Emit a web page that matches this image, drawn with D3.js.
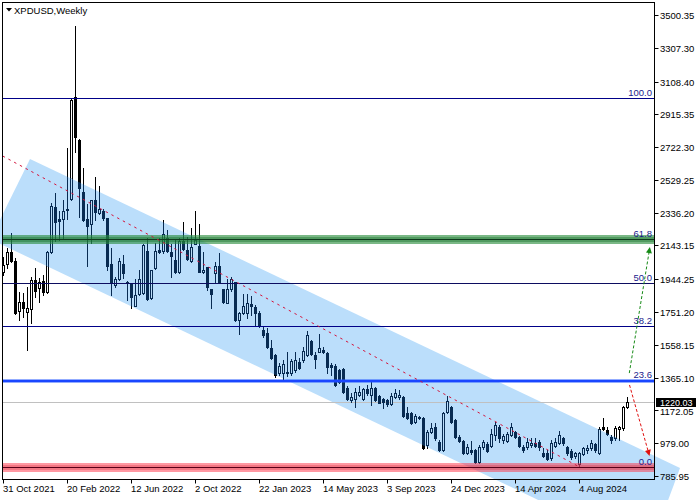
<!DOCTYPE html>
<html><head><meta charset="utf-8">
<script src="https://cdn.jsdelivr.net/npm/d3@7"></script>
<style>
body{margin:0;background:#fff}
svg{display:block}
text{font-family:'Liberation Sans',Arial,sans-serif;font-size:9.5px}
</style>
</head><body>
<svg id="chart" width="700" height="500"></svg>
<script>
// ---------- DATA ----------
const symbolTitle = "XPDUSD,Weekly";
const openP = [1989,2032,2103,2054,1757,1808,1753,1767,1940,1891,1934,1871,2103,2368,2299,2299,2354,2415,3015,2764,
2460,2299,2269,2411,2332,2346,2303,2034,1910,1946,2034,1930,1916,1789,1857,1861,2113,1832,2008,2116,
2113,2185,2103,2058,1985,2170,2116,2054,2152,2140,1985,2014,1887,1979,2022,1887,1806,1887,1926,1704,
1743,1743,1798,1781,1745,1645,1628,1539,1498,1392,1392,1398,1392,1410,1457,1469,1498,1581,1498,1516,
1528,1510,1439,1433,1410,1416,1304,1233,1239,1263,1239,1298,1263,1304,1257,1239,1233,1210,1251,1251,
1251,1157,1157,1104,1133,1127,968,1045,1074,986,939,1163,1192,1115,1015,992,921,939,939,868,
956,974,962,1027,1074,998,992,1027,1045,1015,956,956,968,980,986,921,921,892,962,980,
1009,956,933,903,856,915,939,951,974,921,1074,1056,1015,1009,1062,1068,1192];
const highP = [2077,2126,2215,2068,1871,1861,1900,1959,2008,1950,1969,2108,2391,2450,2348,2411,2715,3004,3435,2768,
2597,2385,2414,2548,2495,2358,2306,2126,1959,2067,2087,1936,1918,1946,1999,2152,2185,2001,2160,2185,
2293,2234,2152,2175,2185,2279,2195,2244,2346,2269,2103,2016,1889,2044,2097,1889,1946,1956,1930,1753,
1857,1857,1846,1792,1757,1663,1657,1587,1504,1451,1469,1516,1475,1516,1480,1545,1640,1587,1516,1622,
1545,1516,1451,1445,1416,1422,1316,1274,1304,1316,1304,1321,1351,1310,1263,1245,1239,1274,1298,1292,
1257,1192,1163,1151,1139,1133,1056,1098,1098,998,1163,1257,1198,1121,1027,998,974,992,945,968,
998,986,1062,1104,1086,1033,1045,1098,1051,1021,968,1009,1009,1009,998,951,939,998,1009,1051,
1015,962,945,927,927,956,968,998,980,1074,1127,1074,1027,1080,1080,1198,1251];
const lowP = [1969,2008,2048,1739,1704,1724,1527,1684,1841,1812,1851,1861,2097,2171,2175,2185,2299,2411,2696,2313,
2290,2024,2156,2293,2330,2293,1999,1851,1900,1940,1950,1822,1773,1787,1851,1859,1824,1830,2005,2097,
2097,2107,1959,1979,1979,2116,2058,2048,2150,1985,1979,1881,1773,1920,1920,1802,1802,1877,1700,1622,
1739,1716,1734,1675,1663,1604,1539,1475,1369,1380,1351,1374,1380,1398,1416,1457,1492,1498,1422,1515,
1510,1392,1380,1316,1333,1274,1233,1221,1192,1257,1233,1263,1204,1227,1213,1186,1198,1204,1245,1239,
1133,1121,1092,1098,1121,945,951,1039,998,933,933,1157,1098,1009,986,915,915,915,862,862,
945,927,956,998,986,980,986,1021,1009,956,927,945,956,956,939,897,880,880,956,974,
968,909,886,892,839,909,921,939,927,915,1056,1027,980,998,998,1056,1186];
const closeP = [2028,2103,2054,1743,1808,1777,1773,1940,1877,1926,1871,2103,2376,2283,2289,2346,2358,3000,2784,2480,
2293,2260,2411,2342,2358,2303,2024,1930,1946,2054,1979,1920,1841,1851,1946,2146,1826,1999,2113,2107,
2211,2113,2083,1989,2170,2120,2063,2132,2175,1989,1999,1897,1857,2024,1926,1812,1887,1946,1704,1743,
1789,1802,1787,1745,1675,1616,1545,1480,1380,1433,1445,1392,1463,1469,1422,1522,1616,1504,1475,1539,
1516,1428,1428,1321,1339,1280,1239,1251,1280,1280,1298,1274,1304,1233,1215,1221,1210,1257,1274,1263,
1139,1127,1098,1139,1127,951,1045,1068,1009,939,1157,1227,1104,1015,992,921,956,927,868,956,
986,933,1033,1086,1009,1021,1033,1074,1015,962,939,986,980,962,956,903,886,980,986,1027,
980,921,897,921,921,951,951,980,939,1062,1062,1033,998,1068,1074,1192,1220.03];

const xTickIndex = [0,16,32,48,64,80,96,112,128,144];
const xTickLabels = ["31 Oct 2021","20 Feb 2022","12 Jun 2022","2 Oct 2022","22 Jan 2023","14 May 2023","3 Sep 2023","24 Dec 2023","14 Apr 2024","4 Aug 2024"];
const yTickValues = [3500.35,3307.30,3108.40,2915.35,2722.30,2529.25,2336.20,2143.15,1944.25,1751.20,1558.15,1365.10,1172.05,979.00,785.95];

const fibRange = [839, 3010];
const fibLevels = [0, 23.6, 38.2, 50, 61.8, 100];
const fibLabels = ["0.0","23.6","38.2","50.0","61.8","100.0"];
const lastPrice = 1220.03;

// annotation objects in (bar index, price)
const channelCorners = [[6.63,2652.5],[169.13,833.1],[161.3,335.0],[-3.28,2180.2]];
const trendLine = [[-0.2,2670],[144,839]];
const upArrow = [[156.45,1392],[161.6,2134]];
const downArrow = [[156.5,1322],[161.5,904]];

// ---------- CHART ----------
const svg = d3.select("#chart");
const W = 700, H = 500;
const plot = {left:2.5, top:2.5, right:654.5, bottom:479.5};
const n = openP.length;
const x = d3.scaleLinear().domain([0, n-1]).range([3.5, 3.5 + 4*(n-1)]);
const y = d3.scaleLinear().domain([785.95, 3500.35]).range([476, 15]);

svg.append("rect").attr("width",W).attr("height",H).attr("fill","#fff");

const chanPts = channelCorners.map(d=>[x(d[0]), y(d[1])]);
const chanPath = "M" + chanPts.map(p=>p.join(",")).join("L") + "Z";
svg.append("path").attr("d", chanPath).attr("fill","#bbdefb");

const defs = svg.append("defs");
defs.append("clipPath").attr("id","chanClip").append("path").attr("d", chanPath);

// bid line
svg.append("line").attr("x1",plot.left).attr("x2",plot.right)
  .attr("y1",Math.round(y(lastPrice))+0.5).attr("y2",Math.round(y(lastPrice))+0.5)
  .attr("stroke","#c0c0c0").attr("stroke-width",1);

function drawCandles(g, col, bullFill){
  for(let i=0;i<n;i++){
    const o=openP[i], c=closeP[i], h=highP[i], l=lowP[i];
    const cx = x(i);
    const yh = Math.round(y(h)), yl = Math.round(y(l));
    const top = Math.round(y(Math.max(o,c))), bot = Math.round(y(Math.min(o,c)));
    g.append("line").attr("x1",cx).attr("x2",cx).attr("y1",yh).attr("y2",yl+1)
      .attr("stroke",col).attr("stroke-width",1);
    if(c>=o){
      if(bot-top<1){
        g.append("rect").attr("x",cx-1.5).attr("y",top).attr("width",3).attr("height",1).attr("fill",col);
      } else {
        g.append("rect").attr("x",cx-1).attr("y",top+0.5).attr("width",2).attr("height",bot-top)
          .attr("fill",bullFill).attr("stroke",col).attr("stroke-width",1);
      }
    } else {
      g.append("rect").attr("x",cx-1.5).attr("y",top).attr("width",3).attr("height",Math.max(bot-top+1,1))
        .attr("fill",col);
    }
  }
}
drawCandles(svg.append("g"), "#000", "#fff");
drawCandles(svg.append("g").attr("clip-path","url(#chanClip)"), "#082b52", "#bbdefb");

// fibonacci levels
const fy = lv => y(fibRange[0] + (fibRange[1]-fibRange[0])*lv/100);
const fibG = svg.append("g");
fibLevels.forEach((lv,k)=>{
  const yy = Math.round(fy(lv));
  if(lv===0){
    fibG.append("rect").attr("x",plot.left).attr("width",plot.right-plot.left).attr("y",yy-4).attr("height",9).attr("fill","rgba(255,50,70,0.5)");
    fibG.append("rect").attr("x",plot.left).attr("width",plot.right-plot.left).attr("y",yy-2).attr("height",5).attr("fill","rgba(215,40,60,0.3)");
    fibG.append("line").attr("x1",plot.left).attr("x2",plot.right).attr("y1",yy+0.5).attr("y2",yy+0.5).attr("stroke","#5a0018");
  } else if(lv===61.8){
    fibG.append("rect").attr("x",plot.left).attr("width",plot.right-plot.left).attr("y",yy-4).attr("height",9).attr("fill","rgba(40,140,60,0.62)");
    fibG.append("rect").attr("x",plot.left).attr("width",plot.right-plot.left).attr("y",yy-2).attr("height",5).attr("fill","rgba(20,110,40,0.4)");
    fibG.append("line").attr("x1",plot.left).attr("x2",plot.right).attr("y1",yy+0.5).attr("y2",yy+0.5).attr("stroke","#0f3a1e");
  } else if(lv===23.6){
    fibG.append("rect").attr("x",plot.left).attr("width",plot.right-plot.left).attr("y",yy-1).attr("height",4).attr("fill","rgba(40,90,255,0.5)");
    fibG.append("line").attr("x1",plot.left).attr("x2",plot.right).attr("y1",yy+1).attr("y2",yy+1).attr("stroke","#1a46ff").attr("stroke-width",2);
  } else {
    fibG.append("line").attr("x1",plot.left).attr("x2",plot.right).attr("y1",yy+0.5).attr("y2",yy+0.5)
      .attr("stroke", lv===50 ? "#0c0c60" : "#000088");
  }
  fibG.append("text").attr("x",652).attr("y",yy-2).attr("text-anchor","end")
    .attr("fill","#1a1a8c").text(fibLabels[k]);
});

// trend line (red dashed)
svg.append("line")
  .attr("x1",x(trendLine[0][0])).attr("y1",y(trendLine[0][1]))
  .attr("x2",x(trendLine[1][0])).attr("y2",y(trendLine[1][1]))
  .attr("stroke","#d4143c").attr("stroke-width",1).attr("stroke-dasharray","2.5,4");

function arrow(pts, col){
  const x1=x(pts[0][0]), y1=y(pts[0][1]), x2=x(pts[1][0]), y2=y(pts[1][1]);
  const dx=x2-x1, dy=y2-y1, len=Math.hypot(dx,dy), ux=dx/len, uy=dy/len;
  const hl=6, hw=3;
  svg.append("line").attr("x1",x1).attr("y1",y1).attr("x2",x2-ux*hl*0.6).attr("y2",y2-uy*hl*0.6)
    .attr("stroke",col).attr("stroke-width",1).attr("stroke-dasharray","3,2");
  const bx=x2-ux*hl, by=y2-uy*hl;
  svg.append("path").attr("d",`M${x2},${y2}L${bx-uy*hw},${by+ux*hw}L${bx+uy*hw},${by-ux*hw}Z`).attr("fill",col);
}
arrow(upArrow, "#168a16");
arrow(downArrow, "#e01010");

// frame
svg.append("rect").attr("x",plot.left).attr("y",plot.top).attr("width",plot.right-plot.left).attr("height",plot.bottom-plot.top)
  .attr("fill","none").attr("stroke","#000").attr("stroke-width",1);

// y axis ticks and labels
yTickValues.forEach(v=>{
  const yy = Math.round(y(v))+0.5;
  svg.append("line").attr("x1",plot.right).attr("x2",plot.right+4).attr("y1",yy).attr("y2",yy).attr("stroke","#000");
  svg.append("text").attr("x",660).attr("y",yy + (v===1172.05 ? 1.5 : 0)).attr("dy","0.35em").attr("fill","#000").text(v.toFixed(2));
});

// x axis ticks and labels
xTickIndex.forEach((idx,k)=>{
  const xx = x(idx);
  svg.append("line").attr("x1",xx).attr("x2",xx).attr("y1",plot.bottom).attr("y2",plot.bottom+4).attr("stroke","#000");
  svg.append("text").attr("x",xx-0.5).attr("y",492).attr("fill","#000").text(xTickLabels[k]);
});

// last price tag
const ly = Math.round(y(lastPrice));
svg.append("rect").attr("x",656).attr("y",ly-4).attr("width",40).attr("height",9).attr("fill","#000");
svg.append("text").attr("x",660).attr("y",ly+0.5).attr("dy","0.35em").attr("fill","#fff").style("font-size","9px").text(lastPrice.toFixed(2));

// title
svg.append("path").attr("d","M6,8L12,8L9,11.5Z").attr("fill","#000");
svg.append("text").attr("x",14).attr("y",13.5).attr("fill","#000").text(symbolTitle);
</script>
</body></html>
